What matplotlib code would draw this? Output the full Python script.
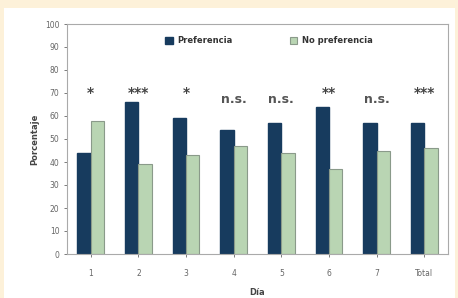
import matplotlib.pyplot as plt
from matplotlib.patches import Rectangle
import numpy as np

dias = ["1", "2", "3", "4", "5", "6", "7", "Total"]
preferencia = [44, 66, 59, 54, 57, 64, 57, 57]
no_preferencia = [58, 39, 43, 47, 44, 37, 45, 46]
signif = ["*", "***", "*", "n.s.", "n.s.", "**", "n.s.", "***"]

fig = plt.figure(figsize=(4.58, 2.98), dpi=100, facecolor="#fdf1d9")
# white panel inside the cream border
fig.patches.append(Rectangle((4 / 458, 0), 451 / 458, 290 / 298,
                             transform=fig.transFigure, facecolor="white",
                             edgecolor="none", zorder=-10))

ax = fig.add_axes([67 / 458, 44 / 298, 381 / 458, 230 / 298])
ax.set_facecolor("white")

x = np.arange(len(dias))
w = 0.28
ax.bar(x - w / 2, preferencia, w, color="#173b5e", edgecolor="#173b5e",
       label="Preferencia")
ax.bar(x + w / 2, no_preferencia, w, color="#b9d5b3", edgecolor="#8a9a8a",
       linewidth=0.8, label="No preferencia")

for i, s in enumerate(signif):
    if s == "n.s.":
        ax.text(i, 67, s, ha="center", va="center", fontsize=9,
                fontweight="bold", color="#555555")
    else:
        ax.text(i, 70, s, ha="center", va="center", fontsize=10,
                fontweight="bold", color="#444444")

ax.set_xlim(-0.5, 7.5)
ax.set_ylim(0, 100)
ax.set_yticks(range(0, 101, 10))
ax.set_xticks(x)
ax.set_xticklabels(dias)
ax.tick_params(labelsize=5.5, colors="#666666", length=2, width=0.6)
ax.tick_params(axis="x", pad=9)
for sp in ax.spines.values():
    sp.set_color("#aaaaaa")
    sp.set_linewidth(0.8)

ax.set_ylabel("Porcentaje", fontsize=6, fontweight="bold", color="#444444")
ax.set_xlabel("Día", fontsize=6, fontweight="bold", color="#444444",
              labelpad=7)
ax.legend(loc="upper center", ncol=2, frameon=False,
          prop={"size": 6, "weight": "bold"},
          handlelength=0.9, handleheight=0.9, columnspacing=6.8,
          handletextpad=0.6, bbox_to_anchor=(0.53, 0.98),
          labelcolor="#333333")

fig.savefig("out.png", dpi=100, facecolor=fig.get_facecolor())
